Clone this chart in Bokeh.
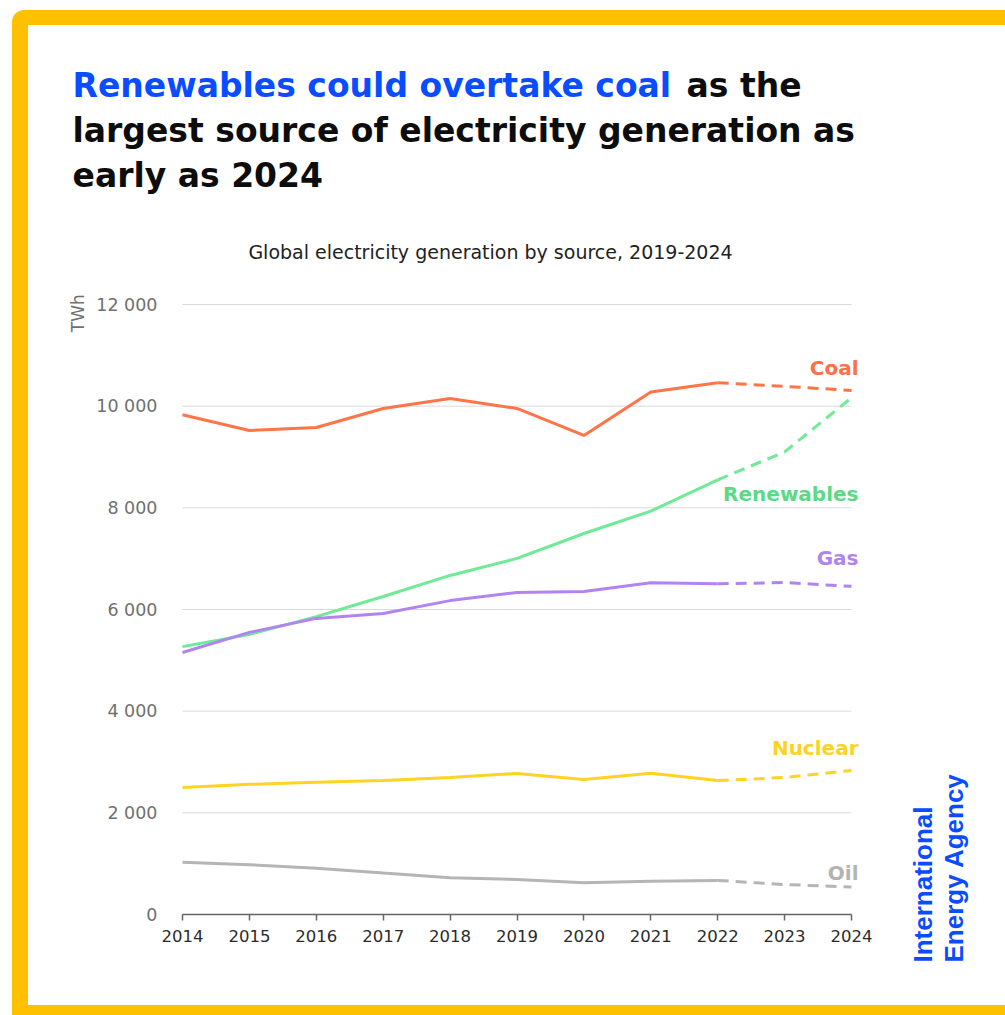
import math
from bokeh.plotting import figure
from bokeh.layouts import column
from bokeh.models import Range1d, Label, FixedTicker, LinearAxis
from bokeh.embed import file_html
from bokeh.resources import INLINE

# ---- data (TWh) ----
years = [2014, 2015, 2016, 2017, 2018, 2019, 2020, 2021, 2022, 2023, 2024]
last_actual_year = 2022
coal = [9830, 9520, 9580, 9955, 10150, 9955, 9425, 10280, 10460, 10390, 10310]
renewables = [5270, 5510, 5860, 6255, 6670, 7005, 7495, 7935, 8550, 9100, 10165]
gas = [5155, 5550, 5825, 5920, 6175, 6335, 6355, 6525, 6505, 6530, 6455]
nuclear = [2500, 2560, 2600, 2635, 2695, 2775, 2655, 2780, 2635, 2695, 2835]
oil = [1030, 980, 910, 815, 725, 690, 625, 655, 670, 590, 540]

series_names = ["Coal", "Renewables", "Gas", "Nuclear", "Oil"]
series_values = [coal, renewables, gas, nuclear, oil]

y_ticks = [0, 2000, 4000, 6000, 8000, 10000, 12000]
y_tick_labels = ["0", "2 000", "4 000", "6 000", "8 000", "10 000", "12 000"]
x_tick_labels = [str(y) for y in years]

title_blue = "Renewables could overtake coal"
title_rest = ["as the", "largest source of electricity generation as", "early as 2024"]
subtitle = "Global electricity generation by source, 2019-2024"
unit_label = "TWh"
brand = ["International", "Energy Agency"]

# ---- styles / layout ----
line_colors = ["#ff7448", "#6fea96", "#b184f2", "#ffd324", "#b5b5b5"]
label_colors = ["#ff7045", "#5cd984", "#b084ee", "#ffd21f", "#b3b3b3"]
label_y = [10760, 8265, 7020, 3285, 825]
BLUE = "#0a4cff"
YELLOW = "#ffc000"
FONT = "DejaVu Sans"
BRAND_FONT = "Liberation Sans"

INNER_W = 977          # white area width (page x 28..1005)
HEADER_H = 250         # page y 25..275
MAIN_H = 730           # page y 275..1005
FRAME_LEFT = 131       # page x 159
FRAME_TOP = 19         # page y 294
FRAME_BOTTOM_BORDER = 40
X0_PX, X1_PX = 154, 823      # where 2014 and 2024 sit (figure px)
Y0_PX, Y12_PX = 639, 29      # where 0 and 12000 sit (figure px)

px_per_year = (X1_PX - X0_PX) / (years[-1] - years[0])
px_per_twh = (Y0_PX - Y12_PX) / y_ticks[-1]
x_start = years[0] - (X0_PX - FRAME_LEFT) / px_per_year
x_end = years[-1] + (INNER_W - X1_PX) / px_per_year
y_end = y_ticks[-1] + (Y12_PX - FRAME_TOP) / px_per_twh
y_start = -((MAIN_H - FRAME_BOTTOM_BORDER) - Y0_PX) / px_per_twh

# ---- header figure (titles) ----
h = figure(width=INNER_W, height=HEADER_H, output_backend="svg", toolbar_location=None,
           x_range=Range1d(0, INNER_W), y_range=Range1d(HEADER_H, 0),
           min_border=0, x_axis_type=None, y_axis_type=None)
h.frame_align = False
h.outline_line_color = None
h.grid.visible = False
h.background_fill_color = "white"
h.border_fill_color = "white"

TS = "33px"
h.add_layout(Label(x=44, y=60, text=title_blue, text_font=FONT, text_font_style="bold",
                   text_font_size=TS, text_color=BLUE, text_baseline="middle"))
h.add_layout(Label(x=658, y=60, text=title_rest[0], text_font=FONT, text_font_style="bold",
                   text_font_size=TS, text_color="#0d0d0d", text_baseline="middle"))
for i, t in enumerate(title_rest[1:]):
    h.add_layout(Label(x=44, y=105 + 45 * i, text=t, text_font=FONT, text_font_style="bold",
                       text_font_size=TS, text_color="#0d0d0d", text_baseline="middle"))
h.add_layout(Label(x=462, y=226, text=subtitle, text_font=FONT, text_font_size="19px",
                   text_color="#222222", text_align="center", text_baseline="middle"))

# ---- main figure ----
p = figure(width=INNER_W, height=MAIN_H, output_backend="svg", toolbar_location=None,
           x_range=Range1d(x_start, x_end), y_range=Range1d(y_start, y_end),
           min_border_left=FRAME_LEFT, min_border_right=0,
           min_border_top=FRAME_TOP, min_border_bottom=FRAME_BOTTOM_BORDER)
p.frame_align = False
p.outline_line_color = None
p.background_fill_color = "white"
p.border_fill_color = "white"
p.grid.visible = False

# x axis drawn at y = 0
p.xaxis.fixed_location = 0
p.xaxis.bounds = (years[0], years[-1])
p.xaxis.ticker = FixedTicker(ticks=years)
p.xaxis.major_label_overrides = {y: s for y, s in zip(years, x_tick_labels)}
p.xaxis.axis_line_color = "#666666"
p.xaxis.axis_line_width = 1.5
p.xaxis.major_tick_line_color = "#666666"
p.xaxis.major_tick_line_width = 1.5
p.xaxis.major_tick_out = 6
p.xaxis.major_tick_in = 0
p.xaxis.minor_tick_line_color = None
p.xaxis.major_label_text_font = FONT
p.xaxis.major_label_text_font_size = "16.5px"
p.xaxis.major_label_text_color = "#2b2b2b"
p.xaxis.major_label_standoff = 9

p.yaxis.ticker = FixedTicker(ticks=y_ticks)
p.yaxis.major_label_overrides = {t: s for t, s in zip(y_ticks, y_tick_labels)}
p.yaxis.axis_line_color = None
p.yaxis.major_tick_line_color = None
p.yaxis.minor_tick_line_color = None
p.yaxis.major_tick_out = 0
p.yaxis.major_tick_in = 0
p.yaxis.major_label_text_font = FONT
p.yaxis.major_label_text_font_size = "17.5px"
p.yaxis.major_label_text_color = "#707070"
p.yaxis.major_label_standoff = 2

# unit label as a second left axis with one vertical tick label
unit_pos = 11830
ua = LinearAxis(ticker=FixedTicker(ticks=[unit_pos]),
                major_label_overrides={unit_pos: unit_label},
                axis_line_color=None, major_tick_line_color=None, minor_tick_line_color=None,
                major_tick_out=0, major_tick_in=0, major_label_orientation="vertical",
                major_label_text_font=FONT, major_label_text_font_size="17px",
                major_label_text_color="#707070", major_label_standoff=5)
p.add_layout(ua, "left")

# horizontal gridlines spanning the year range
grid_vals = y_ticks[1:]
p.segment(x0=[years[0]] * len(grid_vals), x1=[years[-1]] * len(grid_vals),
          y0=grid_vals, y1=grid_vals, line_color="#d9d9d9", line_width=1, level="underlay")

# lines
split = years.index(last_actual_year)
for vals, col in zip(series_values, line_colors):
    p.line(years[:split + 1], vals[:split + 1], line_color=col, line_width=3)
    p.line(years[split:], vals[split:], line_color=col, line_width=3, line_dash="11 7")

# series labels
for name, col, ly in zip(series_names, label_colors, label_y):
    p.add_layout(Label(x=years[-1], y=ly, x_offset=7, text=name, text_align="right",
                       text_baseline="middle", text_font=FONT, text_font_style="bold",
                       text_font_size="20px", text_color=col))

# brand text, rotated
brand_x_px = [922 - 28, 953 - 28]
brand_bottom = -((962 - 275) - Y0_PX) / px_per_twh
for bx, t in zip(brand_x_px, brand):
    p.add_layout(Label(x=years[0] + (bx - X0_PX) / px_per_year, y=brand_bottom, text=t,
                       text_font=BRAND_FONT, text_font_style="bold", text_font_size="26px",
                       text_color=BLUE, text_align="left", text_baseline="middle",
                       angle=math.pi / 2))

inner = column(h, p, spacing=0, styles={"background-color": "white"})
layout = column(inner, spacing=0,
                styles={"background-color": YELLOW, "padding": "15px 0px 10px 16px",
                        "margin-left": "12px", "margin-top": "10px",
                        "border-top-left-radius": "12px"})

open("out.html", "w").write(file_html(layout, INLINE))
